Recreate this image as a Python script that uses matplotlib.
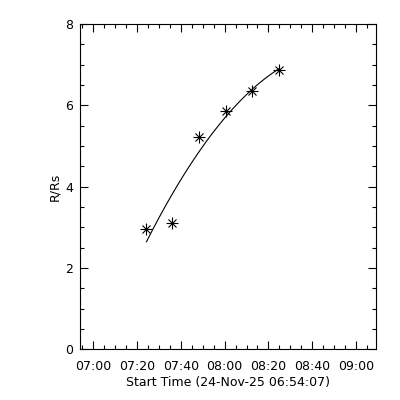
import numpy as np
import pandas as pd
import matplotlib
matplotlib.use("Agg")
import matplotlib.pyplot as plt
import matplotlib.dates as mdates

# height-time measurements
times = ["07:24:25", "07:36:13", "07:48:19", "08:00:43", "08:12:37", "08:25:01"]
heights = [2.95, 3.11, 5.23, 5.85, 6.35, 6.86]

start = pd.Timestamp("2025-11-24 06:54:07")
x_end = pd.Timestamp("2025-11-24 09:09:00")
yticks = [0, 2, 4, 6, 8]

t = pd.to_datetime(["2025-11-24 " + s for s in times])
mins = np.array([(v - start).total_seconds() / 60.0 for v in t])

# second order fit like the original height-time plot
coef = np.polyfit(mins, heights, 2)
tf = np.linspace(mins[0], mins[-1], 100)
yf = np.polyval(coef, tf)
tf_dates = [start + pd.Timedelta(minutes=m) for m in tf]

plt.rcParams["font.family"] = "DejaVu Sans"
fig = plt.figure(figsize=(4, 4), dpi=100)
ax = fig.add_axes([0.2, 0.127, 0.74, 0.813])

ax.plot(tf_dates, yf, color="black", lw=0.8)
ax.plot(t, heights, ls="none", marker="+", ms=8, mew=0.8, color="black")
ax.plot(t, heights, ls="none", marker="x", ms=6, mew=0.8, color="black")

ax.set_xlim(start, x_end)
ax.set_ylim(0, 8)
ax.set_yticks(yticks)
ax.yaxis.set_minor_locator(matplotlib.ticker.MultipleLocator(0.5))
ax.xaxis.set_major_locator(mdates.MinuteLocator(byminute=[0, 20, 40]))
ax.xaxis.set_minor_locator(mdates.MinuteLocator(byminute=range(0, 60, 5)))
ax.xaxis.set_major_formatter(mdates.DateFormatter("%H:%M"))

ax.tick_params(which="both", direction="in", top=True, right=True, labelsize=9, width=0.8)
ax.tick_params(which="major", length=6, pad=5)
ax.tick_params(axis="x", which="major", pad=8)
ax.tick_params(which="minor", length=3)
for s in ax.spines.values():
    s.set_linewidth(0.8)

ax.set_xlabel("Start Time (24-Nov-25 06:54:07)", fontsize=9, labelpad=2)
ax.set_ylabel("R/Rs", fontsize=9, labelpad=3)

fig.savefig("out.png", dpi=100)
